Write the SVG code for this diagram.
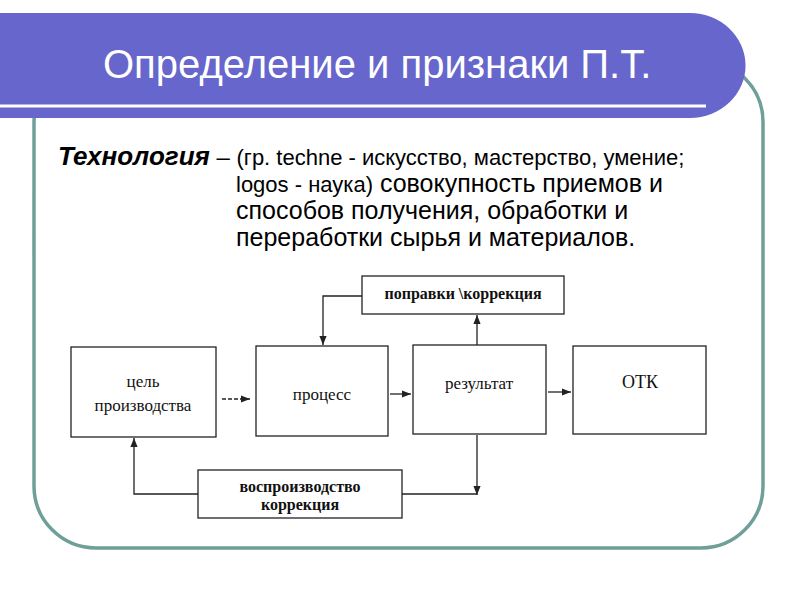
<svg xmlns="http://www.w3.org/2000/svg" width="800" height="600" viewBox="0 0 800 600">
<style>
.b{fill:#fff;stroke:#222;stroke-width:1.3}
.t{font-family:"Liberation Serif",serif;fill:#111;text-anchor:middle}
.c{fill:none;stroke:#222;stroke-width:1.3;marker-end:url(#a)}
.s{font-family:"Liberation Sans",sans-serif;fill:#000}
</style>
<defs><marker id="a" viewBox="0 0 10 10" refX="10" refY="5" markerWidth="7" markerHeight="7" orient="auto"><path d="M0,1L10,5L0,9z" fill="#222"/></marker></defs>
<rect width="800" height="600" fill="#fff"/>
<rect x="34" y="60" width="729" height="488" rx="62" fill="none" stroke="#6f9f99" stroke-width="3.5"/>
<path d="M0,13H690A55,52 0 0 1 690,118H0Z" fill="#6666cc"/>
<line x1="0" y1="106" x2="706" y2="106" stroke="#fff" stroke-width="3"/>
<text x="103" y="78" class="s" font-size="40" style="fill:#fff">Определение и признаки П.Т.</text>
<text x="58" y="165" class="s" font-size="26"><tspan font-weight="bold" font-style="italic">Технология</tspan><tspan font-size="24"> – </tspan><tspan font-size="22">(гр. techne - искусство, мастерство, умение;</tspan></text>
<text x="236" y="192" class="s" font-size="25"><tspan font-size="22">logos - наука)</tspan> совокупность приемов и</text>
<text x="236" y="219" class="s" font-size="25">способов получения, обработки и</text>
<text x="236" y="246" class="s" font-size="25">переработки сырья и материалов.</text>
<g id="connectors">
<path class="c" d="M222,399H250" stroke-dasharray="4,2"/>
<path class="c" d="M390,394H411"/>
<path class="c" d="M548,392H571"/>
<path class="c" d="M477,345V315"/>
<path class="c" d="M362,296H323V345"/>
<path class="c" d="M477,435V495"/>
<path fill="none" stroke="#222" stroke-width="1.3" d="M402,494H477"/>
<path class="c" d="M198,494H134V438"/>
</g>
<g id="goal"><rect class="b" x="71" y="347" width="145" height="90"/><text class="t" x="143" y="387" font-size="17">цель</text><text class="t" x="143" y="411" font-size="17">производства</text></g>
<g id="process"><rect class="b" x="256" y="346" width="132" height="90"/><text class="t" x="322" y="400" font-size="17">процесс</text></g>
<g id="result"><rect class="b" x="413" y="345" width="133" height="89"/><text class="t" x="479" y="389" font-size="17">результат</text></g>
<g id="otk"><rect class="b" x="573" y="346" width="133" height="88"/><text class="t" x="640" y="388" font-size="18">ОТК</text></g>
<g id="corr"><rect class="b" x="362" y="276" width="202" height="38"/><text class="t" x="463" y="299" font-size="16" font-weight="bold">поправки \коррекция</text></g>
<g id="repro"><rect class="b" x="198" y="470" width="204" height="48"/><text class="t" x="300" y="492" font-size="16" font-weight="bold">воспроизводство</text><text class="t" x="300" y="510" font-size="16" font-weight="bold">коррекция</text></g>
</svg>
